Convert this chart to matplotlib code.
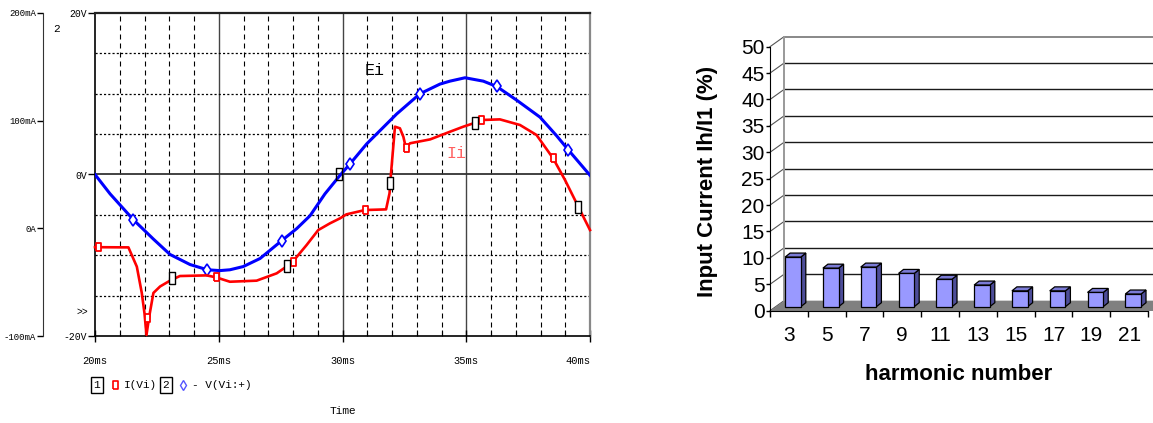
import matplotlib
matplotlib.use("Agg")
import matplotlib.pyplot as plt
import numpy as np
from matplotlib.patches import Polygon, Rectangle
from matplotlib.lines import Line2D

W_PX, H_PX = 1153, 423
MONO = "Liberation Mono"
plt.rcParams['font.family'] = ['Liberation Sans', 'DejaVu Sans']

# ---------------- data: left (PSpice trace, time in ms) ----------------
v_t = [20.0, 20.61, 21.55, 22.36, 23.03, 23.84, 24.54, 25.05, 25.45, 25.99,
       26.67, 27.54, 28.15, 28.69, 29.29, 29.9, 30.3, 30.98, 31.52, 32.19,
       33.13, 33.94, 34.34, 34.95, 35.69, 36.23, 37.04, 37.98, 38.65, 39.12, 40.0]
v_val = [0.0, -2.4, -5.6, -8.0, -9.9, -11.15, -11.8, -11.9, -11.8, -11.4,
         -10.4, -8.2, -6.7, -5.1, -2.4, -0.1, 1.3, 3.8, 5.45, 7.5,
         10.0, 11.2, 11.56, 11.98, 11.56, 10.9, 9.2, 7.1, 4.8, 3.06, -0.1]

i_t = [20.0, 21.35, 21.69, 21.89, 22.0, 22.08, 22.19, 22.36, 22.63, 23.03,
       23.43, 24.51, 24.89, 25.45, 26.53, 27.34, 27.77, 27.99, 28.55, 29.02,
       29.49, 29.9, 30.16, 30.91, 31.76, 31.9, 31.96, 32.12, 32.32, 32.46,
       32.56, 32.73, 33.54, 34.34, 34.88, 35.35, 35.6, 36.36, 37.17, 37.84,
       38.51, 38.99, 39.53, 40.0]
i_val = [-17.5, -17.7, -35.6, -60.0, -79.0, -99.0, -82.0, -60.0, -54.0, -48.6,
         -44.3, -43.7, -45.5, -49.6, -48.6, -41.8, -35.0, -31.0, -15.5, -1.6,
         4.6, 9.3, 13.0, 17.0, 17.6, 32.5, 51.0, 94.4, 92.9, 85.0,
         75.0, 79.0, 82.6, 89.7, 94.4, 98.0, 100.6, 101.2, 96.0, 86.7,
         65.0, 44.9, 20.0, -1.6]

i_mark_t = [20.13, 22.1, 24.87, 28.0, 30.91, 32.56, 35.6, 38.51]
i_mark_val = [-17.5, -83.0, -45.5, -31.0, 17.0, 75.0, 100.6, 65.0]
v_mark_t = [21.55, 24.54, 27.54, 30.3, 33.13, 36.23, 39.12]
v_mark_val = [-5.6, -11.8, -8.2, 1.3, 10.0, 10.9, 3.06]
cur_sq_t = [23.1, 27.77, 31.9, 35.35, 39.53]
cur_sq_val = [-46.5, -35.0, 41.8, 98.0, 20.0]
volt_sq_t = [29.85]
volt_sq_val = [0.0]

time_ticks = [20, 25, 30, 35, 40]
time_labels = ["20ms", "25ms", "30ms", "35ms", "40ms"]
volt_ticks = [-20, 0, 20]
volt_labels = ["-20V", "0V", "20V"]
cur_ticks = [-100, 0, 100, 200]
cur_labels = ["-100mA", "0A", "100mA", "200mA"]

# ---------------- data: right (harmonic spectrum) ----------------
harmonics = ["3", "5", "7", "9", "11", "13", "15", "17", "19", "21"]
ratio = [9.4, 7.3, 7.5, 6.3, 5.2, 4.1, 3.0, 3.0, 2.7, 2.4]


def fx(px):
    return px / W_PX


def fy(py):
    return 1 - py / H_PX


fig = plt.figure(figsize=(W_PX / 100, H_PX / 100), dpi=100)

# ================= left chart =================
ax_v = fig.add_axes([fx(95), fy(336), 495 / W_PX, 323 / H_PX])
ax_v.set_xlim(20, 40)
ax_v.set_ylim(-20, 20)

# grid
for t in range(21, 40):
    if t % 5:
        ax_v.axvline(t, color="black", lw=0.8, ls=(0, (4.5, 3.6)), zorder=1)
    else:
        ax_v.axvline(t, color="#444444", lw=1.0, zorder=1)
for v in [-15, -10, -5, 5, 10, 15]:
    ax_v.axhline(v, color="black", lw=0.9, ls=(0, (1.7, 1.7)), zorder=1)
ax_v.axhline(0, color="#333333", lw=1.3, zorder=1)

small_sq = [(-0.6, -1), (0.6, -1), (0.6, 1), (-0.6, 1), (-0.6, -1)]
cursor_sq = [(-0.48, -1), (0.48, -1), (0.48, 1), (-0.48, 1), (-0.48, -1)]

ax_v.plot(v_t, v_val, color="#0000ff", lw=2.2, zorder=3)
ax_v.plot(v_mark_t, v_mark_val, ls="none", marker="d", ms=6, mfc="white",
          mec="#0000ff", mew=1.2, zorder=4)
ax_v.plot(volt_sq_t, volt_sq_val, ls="none", marker=cursor_sq, ms=9,
          mfc="none", mec="black", mew=1.0, zorder=5)

for side in ["left", "bottom"]:
    ax_v.spines[side].set_color("black")
    ax_v.spines[side].set_linewidth(1.2)
ax_v.spines["top"].set_color("#222222")
ax_v.spines["top"].set_linewidth(1.6)
ax_v.spines["right"].set_color("#888888")
ax_v.spines["right"].set_linewidth(1.6)

ax_v.set_xticks(time_ticks)
ax_v.set_xticklabels(time_labels)
ax_v.set_xticks(range(20, 41), minor=True)
ax_v.tick_params(axis="x", which="major", direction="inout", length=9,
                 width=1, pad=10, labelsize=7.5, labelfontfamily=MONO)
ax_v.tick_params(axis="x", which="minor", direction="in", length=4, width=0.8)
ax_v.get_xticklabels()[-1].set_horizontalalignment("right")
ax_v.set_yticks(volt_ticks)
ax_v.set_yticklabels(volt_labels)
ax_v.tick_params(axis="y", direction="out", length=5, width=1, pad=1,
                 labelsize=7, labelfontfamily=MONO)

ax_i = ax_v.twinx()
ax_i.set_ylim(-100, 200)
ax_i.yaxis.tick_left()
ax_i.spines["left"].set_visible(True)
ax_i.spines["left"].set_position(("outward", 52 * 0.72))
ax_i.spines["left"].set_color("#333333")
for side in ["top", "right", "bottom"]:
    ax_i.spines[side].set_visible(False)
ax_i.set_yticks(cur_ticks)
ax_i.set_yticklabels(cur_labels)
ax_i.tick_params(axis="y", direction="out", length=4, width=1, pad=1,
                 labelsize=6.5, labelfontfamily=MONO)

ax_i.plot(i_t, i_val, color="#ff0000", lw=1.9, zorder=3, clip_on=False)
ax_i.plot(i_mark_t, i_mark_val, ls="none", marker=small_sq, ms=6,
          mfc="white", mec="#ff0000", mew=1.3, zorder=4)
ax_i.plot(cur_sq_t, cur_sq_val, ls="none", marker=cursor_sq, ms=9,
          mfc="white", mec="black", mew=1.0, zorder=5)

ax_v.text(31.3, 12.9, "Ei", color="black", fontsize=12, family=MONO,
          ha="center", va="center")
ax_v.text(34.6, 2.6, "Ii", color="#ff6060", fontsize=12, family=MONO,
          ha="center", va="center")

fig.text(fx(57), fy(29), "2", fontsize=8, family=MONO, ha="center", va="center")
fig.text(fx(82), fy(312), ">>", fontsize=7, family=MONO, ha="center", va="center")

# legend row
box = dict(boxstyle="square,pad=0.25", fc="white", ec="black", lw=1)
fig.text(fx(97), fy(385), "1", fontsize=8, family=MONO, ha="center",
         va="center", bbox=box)
fig.add_artist(Line2D([fx(115)], [fy(385)], marker=small_sq, ms=6, mfc="white",
                      mec="#ff0000", mew=1.2, transform=fig.transFigure))
fig.text(fx(124), fy(385), "I(Vi)", fontsize=8, family=MONO, ha="left", va="center")
fig.text(fx(166), fy(385), "2", fontsize=8, family=MONO, ha="center",
         va="center", bbox=box)
fig.add_artist(Line2D([fx(183)], [fy(385)], marker="d", ms=5, mfc="white",
                      mec="#5555ff", mew=1.0, transform=fig.transFigure))
fig.text(fx(192), fy(385), "- V(Vi:+)", fontsize=8, family=MONO, ha="left",
         va="center")
fig.text(fx(343), fy(411), "Time", fontsize=8, family=MONO, ha="center",
         va="center")

# ================= right chart (3-D column look) =================
slot_px, unit_px = 37.8, 5.28
axr = fig.add_axes([fx(770), fy(310.7), 383 / W_PX, 274 / H_PX])
x_max = 383 / slot_px
y_max = 274 / unit_px
axr.set_xlim(0, x_max)
axr.set_ylim(0, y_max)
axr.patch.set_visible(False)

wall_dx, wall_dy = 14 / slot_px, 10 / unit_px
bar_dx, bar_dy = 5 / slot_px, 4 / unit_px
bar_w = 0.415
bar_off_x, bar_off_y = 0.40, 4 / unit_px

# floor
axr.add_patch(Polygon([(0, 0), (x_max + 0.2, 0), (x_max + 0.2, wall_dy),
                       (wall_dx, wall_dy)], closed=True, fc="#808080",
                      ec="none", zorder=1, clip_on=False))
# back wall gridlines + side diagonals
for v in range(0, 51, 5):
    col = "#888888" if v == 50 else "#1a1a1a"
    axr.plot([wall_dx, x_max + 0.2], [v + wall_dy, v + wall_dy], color=col,
             lw=1.0 if v < 50 else 1.4, zorder=0.5, clip_on=False)
    axr.plot([0, wall_dx], [v, v + wall_dy], color="#555555", lw=0.8,
             zorder=0.5, clip_on=False)
axr.plot([wall_dx, wall_dx], [wall_dy, 50 + wall_dy], color="#999999",
         lw=1.4, zorder=0.6, clip_on=False)

front_c = "#9999ff"
side_c = "#4d4d99"
top_c = "#7b7bd6"
for i, v in enumerate(ratio):
    x0 = i + bar_off_x
    x1 = x0 + bar_w
    y0 = bar_off_y
    y1 = y0 + v
    axr.add_patch(Polygon([(x1, y0), (x1 + bar_dx, y0 + bar_dy),
                           (x1 + bar_dx, y1 + bar_dy), (x1, y1)], closed=True,
                          fc=side_c, ec="black", lw=0.9, zorder=3))
    axr.add_patch(Polygon([(x0, y1), (x1, y1), (x1 + bar_dx, y1 + bar_dy),
                           (x0 + bar_dx, y1 + bar_dy)], closed=True,
                          fc=top_c, ec="black", lw=0.9, zorder=3))
    axr.add_patch(Rectangle((x0, y0), bar_w, v, fc=front_c, ec="black",
                            lw=0.9, zorder=4))

for side in ["top", "right"]:
    axr.spines[side].set_visible(False)
axr.spines["left"].set_bounds(0, 50)
axr.spines["left"].set_color("black")
axr.spines["bottom"].set_color("black")
axr.spines["bottom"].set_bounds(0, 10)
axr.set_yticks(range(0, 51, 5))
axr.tick_params(axis="y", direction="out", length=3, width=1, pad=1,
                labelsize=15)
axr.set_xticks(np.arange(len(harmonics)) + 0.5)
axr.set_xticklabels(harmonics)
axr.set_xticks(np.arange(0, len(harmonics) + 1), minor=True)
axr.tick_params(axis="x", which="major", length=0, pad=11, labelsize=15)
axr.tick_params(axis="x", which="minor", direction="out", length=4, width=1)

fig.text(fx(707), fy(181), "Input Current Ih/I1 (%)", rotation=90,
         fontsize=16, fontweight="bold", ha="center", va="center")
fig.text(fx(959), fy(375), "harmonic number", fontsize=16,
         fontweight="bold", ha="center", va="center")

fig.savefig("out.png", dpi=100)
